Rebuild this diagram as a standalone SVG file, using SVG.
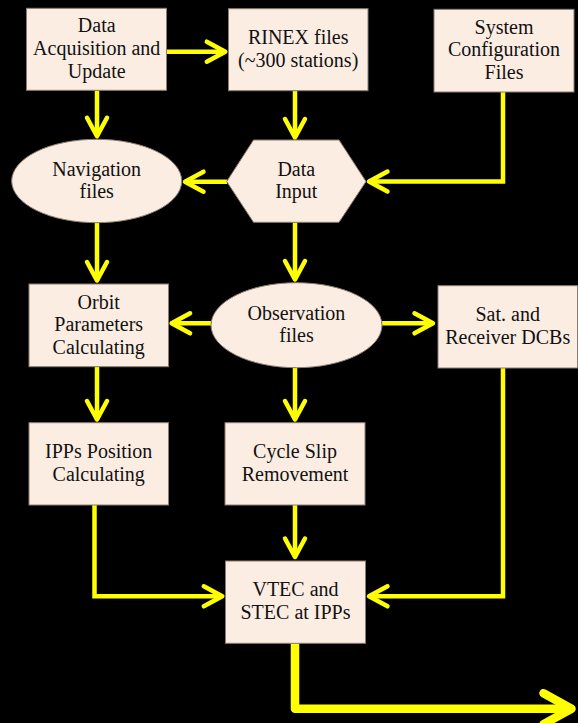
<svg xmlns="http://www.w3.org/2000/svg" width="578" height="723" viewBox="0 0 578 723">
  <style>
    .node { fill: #FCEDE3; stroke: #8A7C72; stroke-width: 1; }
    .wire { fill: none; stroke: #FFFF00; stroke-width: 4.5; stroke-linejoin: miter; }
    .wire-bold { fill: none; stroke: #FFFF00; stroke-width: 8.5; stroke-linejoin: round; }
  </style>
  <defs>
    <marker id="ah" markerUnits="userSpaceOnUse" markerWidth="40" markerHeight="40" refX="0" refY="0" orient="auto" overflow="visible">
      <path d="M-18.5 -10 L0 0 L-18.5 10" fill="none" stroke="#FFFF00" stroke-width="4.5" stroke-linecap="round" stroke-linejoin="round"/>
    </marker>
    <marker id="ahBig" markerUnits="userSpaceOnUse" markerWidth="60" markerHeight="60" refX="0" refY="0" orient="auto" overflow="visible">
      <path d="M-28 -15.5 L0 0 L-28 15.5" fill="none" stroke="#FFFF00" stroke-width="8.5" stroke-linecap="round" stroke-linejoin="round"/>
    </marker>
  </defs>

  <rect x="0" y="0" width="578" height="723" fill="#000000"/>

  <!-- connectors -->
  <g id="connectors">
    <path class="wire" d="M167 51.7 H225.3" marker-end="url(#ah)"/>
    <path class="wire" d="M97 90.5 V136.3" marker-end="url(#ah)"/>
    <path class="wire" d="M295 91 V137.5" marker-end="url(#ah)"/>
    <path class="wire" d="M503 92 V181.5 H369" marker-end="url(#ah)"/>
    <path class="wire" d="M227 181.7 H185" marker-end="url(#ah)"/>
    <path class="wire" d="M97 223 V280.5" marker-end="url(#ah)"/>
    <path class="wire" d="M295 222.3 V279.5" marker-end="url(#ah)"/>
    <path class="wire" d="M211 323.3 H171.6" marker-end="url(#ah)"/>
    <path class="wire" d="M382 323.3 H433" marker-end="url(#ah)"/>
    <path class="wire" d="M97 366.7 V419.5" marker-end="url(#ah)"/>
    <path class="wire" d="M295 367.7 V419.5" marker-end="url(#ah)"/>
    <path class="wire" d="M94.5 505 V596.3 H222.3" marker-end="url(#ah)"/>
    <path class="wire" d="M503 368 V596.3 H369" marker-end="url(#ah)"/>
    <path class="wire" d="M295 505 V557" marker-end="url(#ah)"/>
    <path class="wire-bold" d="M295 643.3 V708.7 H571.5" marker-end="url(#ahBig)"/>
  </g>

  <!-- nodes; labels share one serif face -->
  <g font-family="Liberation Serif, Times New Roman, serif" font-size="20" fill="#111111" text-anchor="middle">
    <g id="data-acquisition">
      <rect class="node" x="26.5" y="8.3" width="140" height="82"/>
      <text x="96.7" y="32.3">Data</text>
      <text x="96.7" y="55.2">Acquisition and</text>
      <text x="96.7" y="78">Update</text>
    </g>

    <g id="rinex-files">
      <rect class="node" x="228.5" y="8.7" width="139.5" height="82"/>
      <text x="298.2" y="44">RINEX files</text>
      <text x="298.2" y="66.7">(~300 stations)</text>
    </g>

    <g id="system-config">
      <rect class="node" x="434" y="9.3" width="140" height="82.7"/>
      <text x="504" y="33.5">System</text>
      <text x="504" y="56.3">Configuration</text>
      <text x="504" y="79.3">Files</text>
    </g>

    <g id="navigation-files">
      <ellipse class="node" cx="96.7" cy="181" rx="85" ry="41.7"/>
      <text x="96.7" y="175.7">Navigation</text>
      <text x="96.7" y="198">files</text>
    </g>

    <g id="data-input">
      <polygon class="node" points="226.7,181.5 253.5,140 339,140 366,181.5 339,222.3 253.5,222.3"/>
      <text x="296.3" y="175.5">Data</text>
      <text x="296.3" y="198.3">Input</text>
    </g>

    <g id="orbit-parameters">
      <rect class="node" x="29" y="284" width="139.5" height="82.7"/>
      <text x="98.7" y="308.5">Orbit</text>
      <text x="98.7" y="331.2">Parameters</text>
      <text x="98.7" y="354">Calculating</text>
    </g>

    <g id="observation-files">
      <ellipse class="node" cx="296.5" cy="325.2" rx="85.5" ry="42.5"/>
      <text x="296.5" y="319.5">Observation</text>
      <text x="296.5" y="342">files</text>
    </g>

    <g id="dcbs">
      <rect class="node" x="438" y="285.7" width="139.5" height="82.3"/>
      <text x="507.7" y="321">Sat. and</text>
      <text x="507.7" y="343.5">Receiver DCBs</text>
    </g>

    <g id="ipp-position">
      <rect class="node" x="29" y="422.7" width="139.5" height="82.3"/>
      <text x="98.7" y="458.3">IPPs Position</text>
      <text x="98.7" y="481">Calculating</text>
    </g>

    <g id="cycle-slip">
      <rect class="node" x="225" y="422.7" width="140" height="82.3"/>
      <text x="295" y="458.3">Cycle Slip</text>
      <text x="295" y="481">Removement</text>
    </g>

    <g id="vtec-stec">
      <rect class="node" x="225.5" y="561" width="140" height="82.3"/>
      <text x="295.5" y="596">VTEC and</text>
      <text x="295.5" y="618.5">STEC at IPPs</text>
    </g>
  </g>
</svg>
